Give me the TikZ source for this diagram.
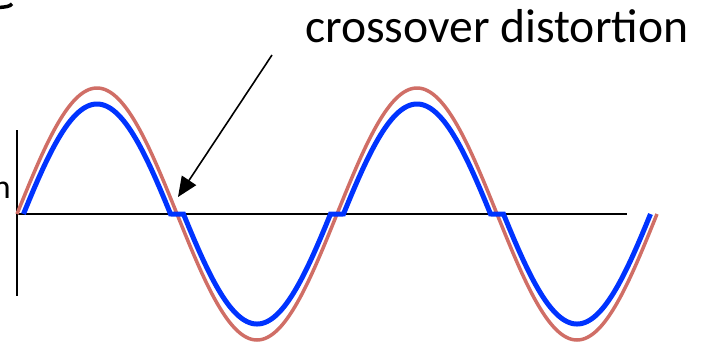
\documentclass[tikz,border=0pt]{standalone}
\usepackage{fontspec}
\setmainfont{Carlito}
\usetikzlibrary{arrows.meta}
\definecolor{sinered}{RGB}{208,110,102}
\definecolor{outblue}{RGB}{0,51,255}
\tikzset{
  axisline/.style={black, line width=2bp},
  redwave/.style={sinered, line width=3.5bp},
  bluewave/.style={outblue, line width=5bp, line join=miter},
  pointer/.style={black, line width=1.6bp, -{Triangle[length=20bp, width=17bp]}},
  lbl/.style={inner sep=0pt, font=\fontsize{47.6bp}{56bp}\selectfont},
  cutlbl/.style={inner sep=0pt, font=\fontsize{34bp}{40bp}\selectfont}
}
\begin{document}
\begin{tikzpicture}[x=1bp, y=-1bp]
\useasboundingbox (0,0) rectangle (704,344);
% fragment at top left
\draw[black, line width=3.5bp] (-2,7.5) .. controls (6,7) and (10,6.5) .. (12,3.8);
% axes
\coordinate (o) at (17,214);
\coordinate (xend) at (627,214);
\coordinate (ytop) at (17,130);
\coordinate (ybot) at (17,296);
\draw[axisline] (o) -- (xend);
\draw[axisline] (ytop) -- (ybot);
% input sine
\draw[redwave] plot[domain=17:657, samples=321, smooth] (\x, {214 - 126*sin(1.125*(\x-17))});
% output with crossover distortion
\draw[bluewave] plot[domain=23.5:650.5, samples=1255] (\x, {214 - ( max(126*sin(1.125*(\x-17))-16,0) + min(126*sin(1.125*(\x-17))+16,0) )});
% labels
\node[lbl, anchor=base west] (title) at (305,42) {crossover distortion};
\node[cutlbl, anchor=base east] (cut) at (11,198) {n};
% arrow
\coordinate (arrstart) at (272,55);
\coordinate (arrtip) at (178,197);
\draw[pointer] (arrstart) -- (arrtip);
\end{tikzpicture}
\end{document}
